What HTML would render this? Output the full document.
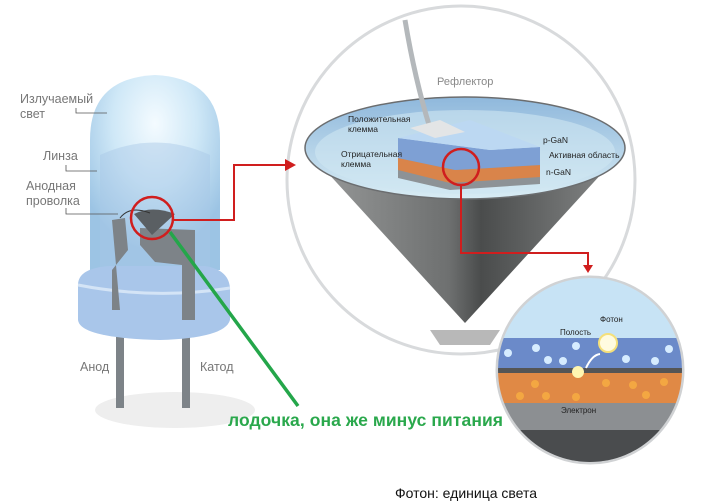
<!DOCTYPE html>
<html><head><meta charset="utf-8"><style>
html,body{margin:0;padding:0;background:#fff;width:720px;height:504px;overflow:hidden}
svg{display:block;font-family:"Liberation Sans",sans-serif}
</style></head><body>
<svg width="720" height="504" viewBox="0 0 720 504" xmlns="http://www.w3.org/2000/svg">
<defs>
<radialGradient id="glow" cx="0.5" cy="0.25" r="0.65"><stop offset="0" stop-color="#f4fbff"/><stop offset="0.5" stop-color="#cfe8f7"/><stop offset="1" stop-color="#9cc4e4"/></radialGradient>
<linearGradient id="cone" x1="0" x2="1"><stop offset="0" stop-color="#9a9c9c"/><stop offset="0.45" stop-color="#6e7070"/><stop offset="0.55" stop-color="#4a4c4c"/><stop offset="1" stop-color="#8a8c8c"/></linearGradient>
<linearGradient id="rim" x1="0" y1="0" x2="0" y2="1"><stop offset="0" stop-color="#8fb8dc"/><stop offset="1" stop-color="#d8ecf4"/></linearGradient>
<clipPath id="cs"><circle cx="590" cy="370" r="92"/></clipPath>
</defs>
<ellipse cx="175" cy="410" rx="80" ry="18" fill="#eeeeee"/>
<rect x="116" y="320" width="8" height="88" fill="#7d8388"/>
<rect x="182" y="320" width="8" height="88" fill="#7d8388"/>
<path d="M90,270 L90,140 Q90,78 155,75 Q220,78 220,140 L220,270 Z" fill="url(#glow)"/>
<path d="M100,155 Q155,130 210,155 L210,270 L100,270Z" fill="#a8c8e6" opacity="0.45"/>
<path d="M78,285 Q78,268 110,266 L205,266 Q230,270 230,290 L230,320 Q225,338 160,340 Q80,338 78,320Z" fill="#a9c6ea"/>
<path d="M78,285 Q155,300 230,288" stroke="#d4e4f6" stroke-width="3" fill="none"/>
<path d="M112,220 L125,218 L128,250 L112,270 L112,310 L120,310Z" fill="#7d8388"/>
<path d="M140,228 L195,230 L195,320 L182,320 L182,265 L155,262 L140,245Z" fill="#7d8388"/>
<path d="M134,214 Q152,205 175,214 L152,235Z" fill="#5a5f63"/>
<path d="M120,218 Q130,205 150,213" stroke="#333" fill="none" stroke-width="1"/>
<g fill="#777" font-size="12.5">
<text x="20" y="103">Излучаемый</text><text x="20" y="118">свет</text>
<text x="43" y="160">Линза</text>
<text x="26" y="190">Анодная</text><text x="26" y="205">проволка</text>
<text x="80" y="371">Анод</text><text x="200" y="371">Катод</text>
</g>
<g stroke="#555" fill="none" stroke-width="0.8">
<path d="M76,108 V113 H107"/><path d="M66,165 V171 H97"/><path d="M66,208 V214 H118"/>
</g>
<circle cx="152" cy="218" r="21" fill="none" stroke="#d01e1e" stroke-width="2.5"/>
<path d="M173,220 H234 V165 H288" stroke="#d01e1e" stroke-width="2" fill="none"/>
<circle cx="461" cy="180" r="174" fill="#fff" stroke="#d8dadc" stroke-width="3"/>
<path d="M285,159 L296,165 L285,171Z" fill="#d01e1e"/>
<path d="M430,330 L500,330 L490,345 L440,345Z" fill="#b8b8b8"/>
<path d="M305,148 L465,323 L625,148Z" fill="url(#cone)"/>
<ellipse cx="465" cy="148" rx="160" ry="51" fill="url(#rim)" stroke="#6b6d6f" stroke-width="1.5"/>
<ellipse cx="465" cy="152" rx="150" ry="42" fill="#cfe6f2" opacity="0.6"/>
<path d="M405,20 Q415,80 430,128" stroke="#b4b8bb" stroke-width="5" fill="none"/>
<path d="M398,143 L398,178 L450,190 L540,184 L540,150 L490,160 Z" fill="#8d9296"/>
<path d="M398,158 L398,170 L450,183 L540,177 L540,165 L455,170Z" fill="#d9844a"/>
<path d="M398,138 L398,158 L455,170 L540,165 L540,147 L490,150Z" fill="#7ea0d4"/>
<path d="M398,138 L470,120 L540,147 L490,150 Z" fill="#bcd8f2"/>
<path d="M410,128 L440,120 L465,132 L435,138Z" fill="#e3e5e6"/>
<circle cx="461" cy="167" r="18" fill="none" stroke="#d01e1e" stroke-width="2.5"/>
<path d="M461,186 V253 H588 V266" stroke="#d01e1e" stroke-width="2" fill="none"/>
<path d="M583,265 L588,273 L593,265Z" fill="#d01e1e"/>
<g font-size="8.5" fill="#222">
<text x="348" y="122">Положительная</text><text x="348" y="132">клемма</text>
<text x="341" y="157">Отрицательная</text><text x="341" y="167">клемма</text>
<text x="543" y="143">p-GaN</text><text x="549" y="158">Активная область</text><text x="546" y="175">n-GaN</text>
</g>
<text x="437" y="85" font-size="11" fill="#888">Рефлектор</text>
<circle cx="590" cy="370" r="93" fill="#fff" stroke="#d0d2d4" stroke-width="3"/>
<g clip-path="url(#cs)">
<rect x="490" y="270" width="200" height="70" fill="#c7e3f5"/>
<rect x="490" y="338" width="200" height="30" fill="#6b8ac9"/>
<rect x="490" y="368" width="200" height="5" fill="#555"/>
<rect x="490" y="373" width="200" height="30" fill="#e08945"/>
<rect x="490" y="403" width="200" height="60" fill="#8c8f92"/>
<rect x="490" y="430" width="200" height="40" fill="#4a4c4e"/>
<g fill="#d6ecff"><circle cx="508" cy="353" r="4"/><circle cx="536" cy="348" r="4"/><circle cx="548" cy="360" r="4"/><circle cx="563" cy="361" r="4"/><circle cx="576" cy="346" r="4"/><circle cx="626" cy="359" r="4"/><circle cx="655" cy="361" r="4"/><circle cx="669" cy="349" r="4"/></g>
<g fill="#f3a742"><circle cx="520" cy="396" r="4"/><circle cx="535" cy="384" r="4"/><circle cx="546" cy="396" r="4"/><circle cx="576" cy="397" r="4"/><circle cx="606" cy="383" r="4"/><circle cx="633" cy="385" r="4"/><circle cx="646" cy="395" r="4"/><circle cx="664" cy="382" r="4"/></g>
<circle cx="578" cy="372" r="6" fill="#fff6b0"/>
<circle cx="608" cy="343" r="9" fill="#fffbe0" stroke="#f5e07a" stroke-width="2"/>
<path d="M586,368 Q592,355 600,354" stroke="#fff" stroke-width="2" fill="none"/>
<g font-size="8" fill="#222"><text x="600" y="322">Фотон</text><text x="560" y="335">Полость</text><text x="561" y="413">Электрон</text></g>
</g>
<path d="M170,232 L298,406" stroke="#24a64a" stroke-width="3.5"/>
<text x="228" y="426" font-size="17.5" font-weight="bold" fill="#2aa84c" textLength="275">лодочка, она же минус питания</text>
<text x="395" y="498" font-size="14" fill="#111">Фотон: единица света</text>
</svg>
</body></html>
